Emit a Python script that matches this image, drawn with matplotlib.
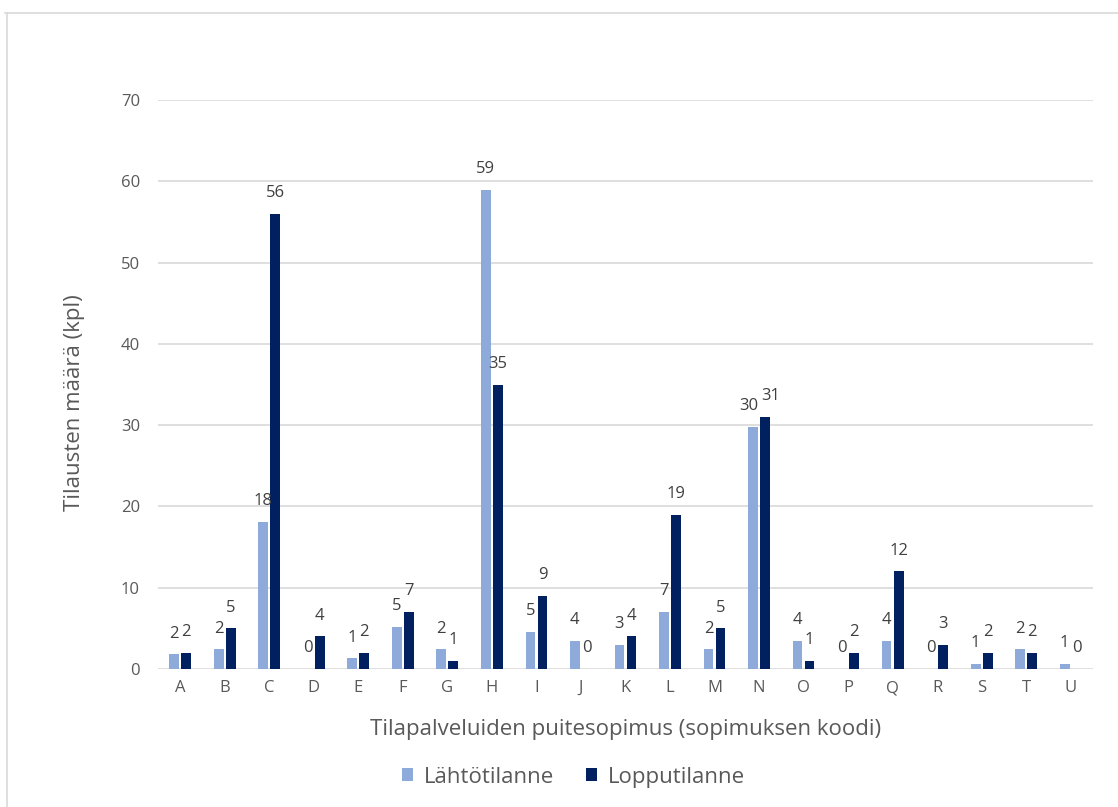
import matplotlib
matplotlib.use("Agg")
import matplotlib.pyplot as plt
from matplotlib.lines import Line2D
import numpy as np

plt.rcParams['font.family'] = ['Open Sans', 'DejaVu Sans']

# Sopimusten koodit ja tilausmäärät
categories = list("ABCDEFGHIJKLMNOPQRSTU")
lahtotilanne = [1.8, 2.4, 18.1, 0, 1.3, 5.2, 2.4, 58.9, 4.6, 3.5, 3.0,
                7.0, 2.4, 29.8, 3.5, 0, 3.5, 0, 0.6, 2.4, 0.6]
lopputilanne = [2, 5, 56, 4, 2, 7, 1, 35, 9, 0, 4,
                19, 5, 31, 1, 2, 12, 3, 2, 2, 0]
series_names = ["Lähtötilanne", "Lopputilanne"]
yticks = [0, 10, 20, 30, 40, 50, 60, 70]

light = "#8EAADB"
dark = "#002060"
grid_c = "#D9D9D9"
text_c = "#595959"
label_c = "#404040"

fig = plt.figure(figsize=(11.18, 8.07), dpi=100)
ax = fig.add_axes([0.1413, 0.171, 0.8363, 0.705])

x = np.arange(len(categories))
w = 0.22
off = 0.135
b1 = ax.bar(x - off, lahtotilanne, w, color=light, label=series_names[0], zorder=3)
b2 = ax.bar(x + off, lopputilanne, w, color=dark, label=series_names[1], zorder=3)

# Value labels; the close pair at N is spread apart a little
for bars, nudge in ((b1, -3), (b2, 4)):
    for i, rect in enumerate(bars):
        h = rect.get_height()
        dx = nudge if categories[i] == "N" else 0
        ax.annotate(f"{h:.0f}", (rect.get_x() + rect.get_width() / 2, h),
                    xytext=(dx, 15), textcoords="offset points",
                    ha="center", va="center", fontsize=12, color=label_c)

ax.set_xlim(-0.5, len(categories) - 0.5)
ax.set_ylim(0, 70)
ax.set_yticks(yticks)
ax.set_xticks(x)
ax.set_xticklabels(categories)
ax.tick_params(axis="both", length=0, labelsize=12, colors=text_c)
ax.tick_params(axis="y", pad=13)
ax.tick_params(axis="x", pad=8)
ax.yaxis.grid(True, color=grid_c, linewidth=1.2, zorder=0)
ax.set_axisbelow(True)
for s in ax.spines.values():
    s.set_visible(False)

ax.set_ylabel("Tilausten määrä (kpl)", fontsize=16, color=text_c, va="center")
ax.yaxis.set_label_coords(-0.0888, 0.469)
ax.set_xlabel("Tilapalveluiden puitesopimus (sopimuksen koodi)", fontsize=16,
              color=text_c, va="center")
ax.xaxis.set_label_coords(0.5, -0.107)

fig.legend(handles=[b1, b2], labels=series_names, loc="center",
           bbox_to_anchor=(0.513, 0.037), ncol=2, frameon=False,
           fontsize=16, labelcolor=text_c, handlelength=0.5, handleheight=0.5,
           handletextpad=0.5, columnspacing=1.4)

# Chart area frame (top and left edges)
fig.add_artist(Line2D([5 / 1118, 1.0], [1 - 13 / 807, 1 - 13 / 807],
                      transform=fig.transFigure, color=grid_c, linewidth=1.2))
fig.add_artist(Line2D([7 / 1118, 7 / 1118], [0, 1 - 13 / 807],
                      transform=fig.transFigure, color=grid_c, linewidth=1.2))

fig.savefig("out.png", dpi=100, facecolor="white")
